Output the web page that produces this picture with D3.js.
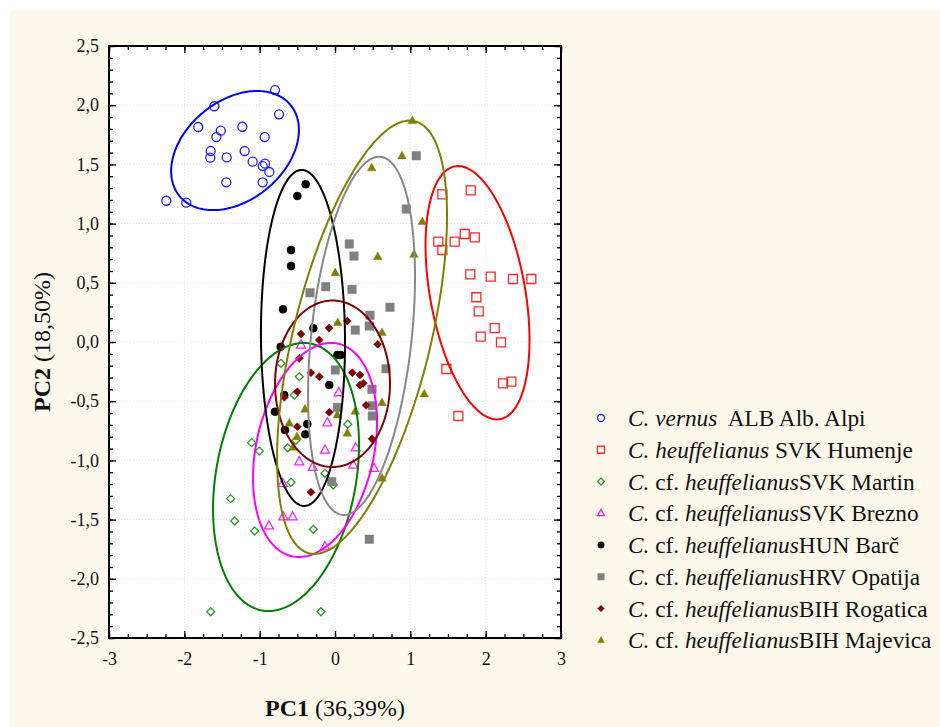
<!DOCTYPE html>
<html><head><meta charset="utf-8">
<script src="https://cdn.jsdelivr.net/npm/d3@7"></script>
<style>body{margin:0;background:#fff;} svg{display:block;}</style>
</head><body>
<svg id="chart" width="940" height="727"></svg>
<script>
// ---------- data ----------
const xTicks = [-3,-2,-1,0,1,2,3];
const yTicks = [-2.5,-2,-1.5,-1,-0.5,0,0.5,1,1.5,2,2.5];
const xLabel = ["PC1", " (36,39%)"];
const yLabel = ["PC2", " (18,50%)"];

const vernus = [[-0.796,2.128],[-0.743,1.923],[-1.602,1.991],[-1.815,1.816],[-1.517,1.785],[-1.575,1.731],[-1.230,1.818],[-0.933,1.731],[-1.650,1.613],[-1.655,1.557],[-1.438,1.560],[-1.199,1.613],[-1.093,1.523],[-0.960,1.486],[-0.929,1.506],[-0.872,1.436],[-1.443,1.349],[-0.960,1.349],[-2.239,1.193],[-1.974,1.177]];
const humenje = [[1.425,1.247],[1.802,1.281],[1.371,0.847],[1.589,0.847],[1.722,0.912],[1.855,0.884],[1.425,0.777],[1.796,0.572],[2.067,0.552],[2.363,0.532],[2.606,0.532],[1.876,0.378],[1.908,0.259],[2.120,0.118],[1.934,0.045],[2.204,-0.003],[1.478,-0.228],[2.230,-0.349],[2.341,-0.335],[1.637,-0.625]];
const martin = [[-0.474,-0.293],[-0.540,-0.448],[-1.106,-0.850],[-1.005,-0.921],[-0.628,-0.893],[-0.584,-1.185],[-0.133,-1.109],[0.169,-0.695],[-0.023,-1.208],[-1.385,-1.323],[-1.331,-1.512],[-1.066,-1.596],[-1.650,-2.278],[-0.288,-1.582],[-0.186,-2.278],[-0.717,-0.180],[-0.520,-0.830]];
const brezno = [[-0.451,-0.025],[0.049,-0.428],[-0.102,-0.682],[-0.133,-0.912],[0.275,-0.893],[-0.474,-1.011],[-0.296,-1.058],[0.243,-1.039],[0.518,-1.067],[-0.694,-1.193],[-0.686,-1.476],[-0.562,-1.476],[-0.876,-1.552],[-0.133,-1.729]];
const barc = [[-0.389,1.332],[-0.500,1.233],[-0.584,0.777],[-0.584,0.642],[-0.690,0.276],[-0.288,0.116],[-0.721,-0.040],[0.031,-0.110],[0.076,-0.110],[-0.076,-0.363],[-0.673,-0.448],[-0.797,-0.589],[-0.368,-0.693],[-0.664,-0.743],[-0.394,-0.780]];
const opatija = [[1.079,1.573],[0.947,1.123],[0.190,0.828],[0.252,0.726],[-0.123,0.467],[-0.332,0.416],[0.226,0.445],[0.730,0.293],[0.465,0.226],[0.269,0.101],[0.455,0.135],[0.677,-0.226],[0.004,-0.236],[0.491,-0.399],[0.031,-0.552],[0.495,-0.538],[0.495,-0.625],[-0.044,-1.180],[0.455,-1.666]];
const rogatica = [[0.163,0.177],[-0.080,0.118],[-0.451,0.068],[-0.208,0.017],[0.567,-0.019],[-0.474,-0.138],[-0.319,-0.259],[-0.208,-0.293],[0.230,-0.259],[0.332,-0.279],[0.332,-0.363],[0.376,-0.349],[-0.500,-0.420],[-0.673,-0.467],[-0.076,-0.594],[0.412,-0.535],[-0.500,-0.715],[0.491,-0.817],[-0.319,-1.269]];
const majevica = [[1.026,1.869],[0.889,1.571],[0.487,1.470],[1.159,1.016],[1.049,0.741],[0.567,0.720],[0.004,0.585],[0.036,0.163],[0.624,0.079],[0.624,-0.513],[-0.398,-0.568],[0.031,-0.617],[0.269,-0.585],[-0.607,-0.686],[-0.504,-0.800],[0.163,-0.771],[-0.554,-0.889],[0.624,-1.151],[1.185,-0.439]];

const seriesData = [vernus, humenje, martin, brezno, barc, opatija, rogatica, majevica];
const seriesShapes = ["circle","square","diamond","triangle","circle","square","diamond","triangle"];
const seriesFilled = [false,false,false,false,true,true,true,true];
const seriesColors = ["#1f1fff","#ff2a2a","#2e9a2e","#ff22ff","#000000","#808080","#800000","#808000"];
const ellipseColors = ["#0000ff","#ff0000","#008000","#ff00ff","#000000","#888888","#800000","#808000"];

// confidence ellipses: centre, horizontal half-width, vertical half-height, tilt (cos of phase)
const ellipseCX = [-1.327, 1.892, -0.650, -0.265, -0.425, 0.352, -0.033, 0.359];
const ellipseCY = [1.617, 0.416, -1.140, -0.912, 0.034, 0.052, -0.353, 0.040];
const ellipseRX = [0.848, 0.690, 0.969, 0.823, 0.558, 0.710, 0.763, 1.128];
const ellipseRY = [0.503, 1.070, 1.132, 0.904, 1.419, 1.513, 0.703, 1.830];
const ellipseTilt = [0.345, -0.373, 0.24, 0.26, -0.03, 0.33, 0.0, 0.56];

// legend labels: [text, italic]
const legendLabels = [
  [["C.",1],[" vernus",1],["  ALB Alb. Alpi",0]],
  [["C.",1],[" heuffelianus",1],[" SVK Humenje",0]],
  [["C.",1],[" cf. ",0],["heuffelianus",1],["SVK Martin",0]],
  [["C.",1],[" cf. ",0],["heuffelianus",1],["SVK Brezno",0]],
  [["C.",1],[" cf. ",0],["heuffelianus",1],["HUN Barč",0]],
  [["C.",1],[" cf. ",0],["heuffelianus",1],["HRV Opatija",0]],
  [["C.",1],[" cf. ",0],["heuffelianus",1],["BIH Rogatica",0]],
  [["C.",1],[" cf. ",0],["heuffelianus",1],["BIH Majevica",0]]
];

// ---------- drawing ----------
const svg = d3.select("#chart");
const FONT = "'Liberation Serif','Times New Roman',serif";
const pL = 109, pR = 561, pT = 46, pB = 638;
const x = d3.scaleLinear().domain([-3,3]).range([pL,pR]);
const y = d3.scaleLinear().domain([-2.5,2.5]).range([pB,pT]);

svg.append("rect").attr("x",10).attr("y",10).attr("width",930).attr("height",717).attr("fill","#fdf8ec");
svg.append("rect").attr("x",pL).attr("y",pT).attr("width",pR-pL).attr("height",pB-pT).attr("fill","#ffffff");

// grid
const g = svg.append("g");
g.selectAll(".gx").data(xTicks.slice(1,-1)).join("line")
  .attr("x1",d=>x(d)).attr("x2",d=>x(d)).attr("y1",pT).attr("y2",pB)
  .attr("stroke","#e4e4e4").attr("stroke-dasharray","1,2");
g.selectAll(".gy").data(yTicks.slice(1,-1)).join("line")
  .attr("y1",d=>y(d)).attr("y2",d=>y(d)).attr("x1",pL).attr("x2",pR)
  .attr("stroke","#e4e4e4").attr("stroke-dasharray","1,2");

const fmtY = d => d3.format(".1f")(d).replace(".",",").replace("\u2212","-");
const fmtX = d => d3.format("d")(d).replace("\u2212","-");
const xMinor = d3.range(-3, 3.0001, 0.25);
const yMinor = d3.range(-2.5, 2.5001, 0.1);

function styleAxis(sel){
  sel.select(".domain").remove();
  sel.selectAll(".tick line").attr("stroke","#000").attr("stroke-width",1.3);
  sel.selectAll("text").attr("font-family",FONT).attr("font-size",18).attr("fill","#111");
}
// bottom
svg.append("g").attr("transform",`translate(0,${pB})`)
  .call(d3.axisBottom(x).tickValues(xMinor).tickSize(-4).tickFormat("")).call(styleAxis);
svg.append("g").attr("transform",`translate(0,${pB})`)
  .call(d3.axisBottom(x).tickValues(xTicks).tickSize(-7).tickPadding(14).tickFormat(fmtX)).call(styleAxis);
// top
svg.append("g").attr("transform",`translate(0,${pT})`)
  .call(d3.axisTop(x).tickValues(xMinor).tickSize(-4).tickFormat("")).call(styleAxis);
svg.append("g").attr("transform",`translate(0,${pT})`)
  .call(d3.axisTop(x).tickValues(xTicks).tickSize(-7).tickFormat("")).call(styleAxis);
// left
svg.append("g").attr("transform",`translate(${pL},0)`)
  .call(d3.axisLeft(y).tickValues(yMinor).tickSize(-4).tickFormat("")).call(styleAxis);
svg.append("g").attr("transform",`translate(${pL},0)`)
  .call(d3.axisLeft(y).tickValues(yTicks).tickSize(-7).tickPadding(10).tickFormat(fmtY)).call(styleAxis);
// right
svg.append("g").attr("transform",`translate(${pR},0)`)
  .call(d3.axisRight(y).tickValues(yMinor).tickSize(-4).tickFormat("")).call(styleAxis);
svg.append("g").attr("transform",`translate(${pR},0)`)
  .call(d3.axisRight(y).tickValues(yTicks).tickSize(-7).tickFormat("")).call(styleAxis);

// symbol paths
function symPath(shape, s){
  const h = s/2;
  if (shape==="circle") return `M${h},0A${h},${h} 0 1,1 ${-h},0A${h},${h} 0 1,1 ${h},0Z`;
  if (shape==="square") return `M${-h},${-h}h${s}v${s}h${-s}Z`;
  if (shape==="diamond") return `M0,${-h}L${h},0L0,${h}L${-h},0Z`;
  const ht = s*0.9;
  return `M0,${-ht*0.62}L${h},${ht*0.38}L${-h},${ht*0.38}Z`;
}
const markSize = {circle:9, square:9, diamond:8, triangle:9};
const fillSize = {circle:8, square:8.5, diamond:8, triangle:8.5};

// points
seriesData.forEach((data,i)=>{
  const shape = seriesShapes[i], filled = seriesFilled[i], col = seriesColors[i];
  const s = filled ? fillSize[shape] : markSize[shape];
  svg.append("g").selectAll("path").data(data).join("path")
    .attr("transform",d=>`translate(${x(d[0])},${y(d[1])})`)
    .attr("d",symPath(shape,s))
    .attr("fill",filled?col:"none")
    .attr("stroke",col)
    .attr("stroke-width",filled?0.5:1.3);
});

// ellipses
const tSteps = d3.range(0, 2*Math.PI, Math.PI/90);
const line = d3.line().x(d=>x(d[0])).y(d=>y(d[1])).curve(d3.curveLinearClosed);
ellipseCX.forEach((cx,i)=>{
  const phi = Math.acos(ellipseTilt[i]);
  const pts = tSteps.map(t=>[cx + ellipseRX[i]*Math.cos(t), ellipseCY[i] + ellipseRY[i]*Math.cos(t-phi)]);
  svg.append("path").attr("d",line(pts)).attr("fill","none")
    .attr("stroke",ellipseColors[i]).attr("stroke-width",2);
});

// frame
svg.append("rect").attr("x",pL).attr("y",pT).attr("width",pR-pL).attr("height",pB-pT)
  .attr("fill","none").attr("stroke","#000").attr("stroke-width",2);

// axis titles
const xt = svg.append("text").attr("x",(pL+pR)/2).attr("y",716).attr("text-anchor","middle")
  .attr("font-family",FONT).attr("font-size",24).attr("fill","#111");
xt.append("tspan").attr("font-weight","bold").text(xLabel[0]);
xt.append("tspan").text(xLabel[1]);
const yt = svg.append("text").attr("transform",`translate(50,${(pT+pB)/2}) rotate(-90)`).attr("text-anchor","middle")
  .attr("font-family",FONT).attr("font-size",24).attr("fill","#111");
yt.append("tspan").attr("font-weight","bold").text(yLabel[0]);
yt.append("tspan").text(yLabel[1]);

// legend
const legX = 601, legTextX = 628, legY0 = 418, legStep = 31.75;
legendLabels.forEach((parts,i)=>{
  const cy = legY0 + i*legStep;
  const shape = seriesShapes[i], filled = seriesFilled[i], col = seriesColors[i];
  svg.append("path").attr("transform",`translate(${legX},${cy})`)
    .attr("d",symPath(shape, filled?6.5:7))
    .attr("fill",filled?col:"none").attr("stroke",col).attr("stroke-width",filled?0.5:1.3);
  const t = svg.append("text").attr("x",legTextX).attr("y",cy+8)
    .attr("font-family",FONT).attr("font-size",23.3).attr("fill","#111").style("white-space","pre");
  parts.forEach(p=>{
    t.append("tspan").attr("font-style",p[1]?"italic":"normal").text(p[0]);
  });
});
</script>
</body></html>
